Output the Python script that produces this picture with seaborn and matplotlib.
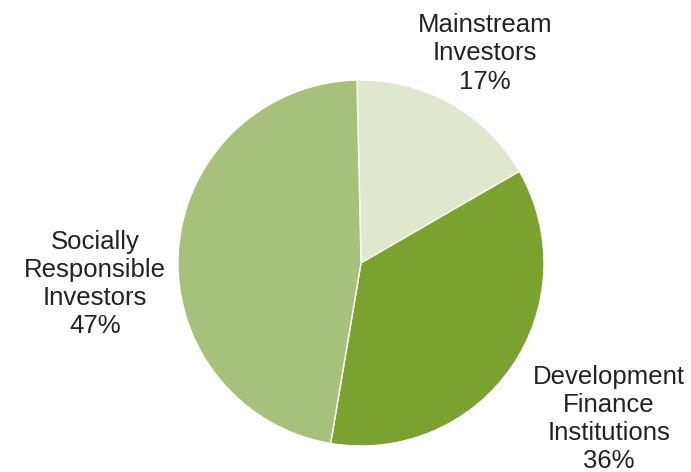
import matplotlib
matplotlib.use("Agg")
import matplotlib.pyplot as plt
import seaborn as sns

categories = ["Mainstream\nInvestors", "Development\nFinance\nInstitutions", "Socially\nResponsible\nInvestors"]
shares = [17, 36, 47]
colors = ["#dfe7cd", "#7aa22f", "#a7c17b"]

sns.set_theme(style="white")
plt.rcParams["font.family"] = ["Liberation Sans", "DejaVu Sans"]

fig = plt.figure(figsize=(6.91, 4.72), dpi=100)
ax = fig.add_axes([178 / 691, 26 / 472, 366 / 691, 366 / 472])
wedges, _ = ax.pie(shares, colors=colors, startangle=91.25, counterclock=False,
                   radius=1.0, wedgeprops=dict(edgecolor="white", linewidth=1.0))
ax.set_xlim(-1, 1)
ax.set_ylim(-1, 1)
ax.set_aspect("equal")
ax.axis("off")

label_pos = [(0.678, 1.145), (1.355, -0.852), (-1.454, -0.115)]
for cat, val, (x, y) in zip(categories, shares, label_pos):
    ax.text(x, y, f"{cat}\n{val}%", ha="center", va="center", fontsize=18.5,
            color="#222222", linespacing=1.22, clip_on=False)

fig.savefig("out.png", dpi=100)
